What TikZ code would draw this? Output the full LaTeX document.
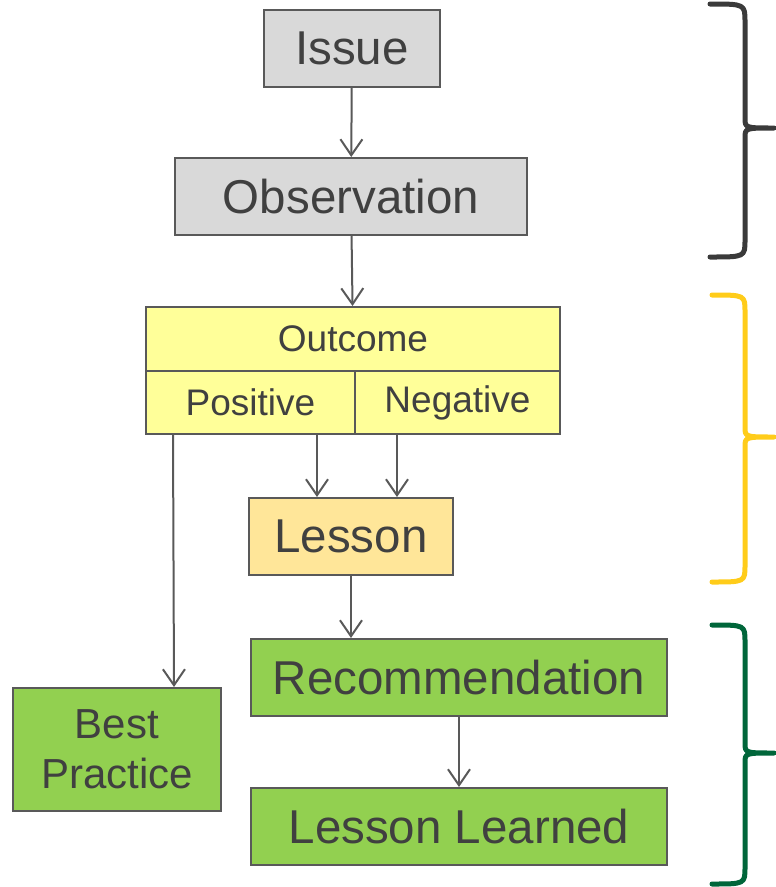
\documentclass[tikz,border=0pt]{standalone}
\usepackage{fontspec}
\setmainfont{Liberation Sans}
\usepackage{xcolor}
\usetikzlibrary{arrows.meta,positioning,calc}
\definecolor{textgray}{RGB}{64,64,64}
\definecolor{linegray}{RGB}{89,89,89}
\definecolor{boxgray}{RGB}{217,217,217}
\definecolor{boxyellow}{RGB}{255,255,153}
\definecolor{boxlesson}{RGB}{255,230,153}
\definecolor{boxgreen}{RGB}{146,208,80}
\definecolor{bracegray}{RGB}{58,58,58}
\definecolor{braceyellow}{RGB}{255,204,26}
\definecolor{bracegreen}{RGB}{0,102,58}

\begin{document}
\begin{tikzpicture}[
        x=1pt, y=-1pt,
        every node/.style={text=textgray},
        box/.style={draw=linegray, line width=2pt, inner sep=0pt, font=\fontsize{47.5}{52}\selectfont},
        cell/.style={box, font=\fontsize{37}{42}\selectfont, fill=boxyellow},
        arr/.style={-{Straight Barb[length=16pt,width=22pt]}, line width=2pt, draw=linegray},
        brace/.style={line width=5pt, line cap=round, line join=round},
    ]
        \useasboundingbox (0,0) rectangle (776,887);

        \node[box, fill=boxgray, minimum width=176pt, minimum height=77pt] (issue) at (352,48) {Issue};
        \node[box, fill=boxgray, minimum width=352pt, minimum height=77pt] (obs) at (351,196.5) {Observation};
        \node[cell, minimum width=414pt, minimum height=64pt] (outcome) at (353,339) {Outcome};
        \node[cell, minimum width=209pt, minimum height=63pt] (positive) at (250.5,402.5) {Positive};
        \node[cell, minimum width=205pt, minimum height=63pt] (negative) at (457.5,402.5) {Negative};
        \node[box, fill=boxlesson, minimum width=204pt, minimum height=77pt] (lesson) at (351,536.5) {Lesson};
        \node[box, fill=boxgreen, minimum width=416pt, minimum height=77pt] (rec) at (459,677.5) {Recommendation};
        \node[box, fill=boxgreen, minimum width=416pt, minimum height=77pt] (learned) at (459,826.5) {Lesson Learned};
        \node[box, fill=boxgreen, minimum width=208pt, minimum height=123pt, align=center,
              font=\fontsize{42}{50}\selectfont] (best) at (117,749.5) {Best\\Practice};

        \draw[arr] (issue) -- (obs);
        \draw[arr] (obs) -- (outcome);
        \draw[arr] ([xshift=28pt]positive.south west) -- ([xshift=162pt]best.north west);
        \draw[arr] ([xshift=-34pt]lesson.north |- positive.south) -- ([xshift=-34pt]lesson.north);
        \draw[arr] ([xshift=46pt]lesson.north |- negative.south) -- ([xshift=46pt]lesson.north);
        \draw[arr] (lesson.south) -- (lesson.south |- rec.north);
        \draw[arr] (rec) -- (learned);

        % Braces
        \draw[brace, bracegray] (710,4) .. controls (745,4) .. (745,22) -- (745,118)
            .. controls (745,128) .. (774,128) .. controls (745,128) .. (745,138)
            -- (745,240) .. controls (745,257) .. (710,257);
        \draw[brace, braceyellow] (712,295) .. controls (745,295) .. (745,312) -- (745,427)
            .. controls (745,437) .. (774,437) .. controls (745,437) .. (745,447)
            -- (745,565) .. controls (745,582) .. (712,582);
        \draw[brace, bracegreen] (712,625) .. controls (745,625) .. (745,642) -- (745,743)
            .. controls (745,753) .. (774,753) .. controls (745,753) .. (745,763)
            -- (745,867) .. controls (745,884) .. (712,884);
    \end{tikzpicture}
\end{document}
